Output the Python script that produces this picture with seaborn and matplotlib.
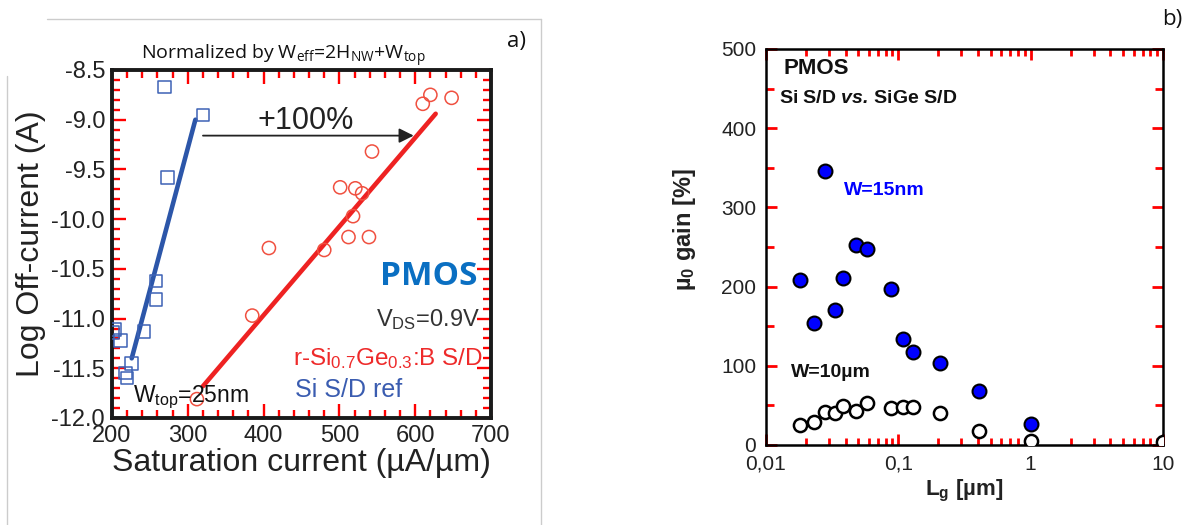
import numpy as np
import pandas as pd
import matplotlib
matplotlib.use("Agg")
import matplotlib.pyplot as plt
import seaborn as sns
from matplotlib.ticker import MultipleLocator, FixedLocator, FuncFormatter, LogLocator, NullFormatter
from matplotlib.lines import Line2D

# ---------------- Panel a) data ----------------
si_isat = [269, 320, 273, 258, 258, 242, 204, 211, 201, 226, 218, 220]
si_ioff = [-8.67, -8.95, -9.58, -10.62, -10.81, -11.13, -11.11, -11.22, -11.14, -11.45, -11.55, -11.60]
sige_isat = [312, 385, 407, 480, 501, 521, 530, 518, 512, 539, 543, 610, 620, 648]
sige_ioff = [-11.81, -10.97, -10.29, -10.31, -9.68, -9.69, -9.74, -9.97, -10.18, -10.18, -9.32, -8.84, -8.75, -8.78]
si_fit_isat = [226, 310]
si_fit_ioff = [-11.40, -9.00]
sige_fit_isat = [320, 627]
sige_fit_ioff = [-11.68, -8.94]
arrow_isat = [320, 598]
arrow_ioff = [-9.16, -9.16]

# ---------------- Panel b) data ----------------
lg_w15 = [0.018, 0.023, 0.028, 0.033, 0.038, 0.048, 0.058, 0.088, 0.108, 0.128, 0.208, 0.41, 1.0]
gain_w15 = [208, 154, 346, 171, 211, 253, 248, 197, 134, 118, 103, 68, 27]
lg_w10 = [0.018, 0.023, 0.028, 0.033, 0.038, 0.048, 0.058, 0.088, 0.108, 0.128, 0.208, 0.41, 1.0, 10.0]
gain_w10 = [25, 29, 42, 40, 49, 43, 53, 47, 48, 48, 41, 18, 5, 4]
lg_ticks = [0.01, 0.1, 1, 10]
lg_ticklabels = ["0,01", "0,1", "1", "10"]

sns.set_theme(style="ticks")
plt.rcParams["font.family"] = ["Liberation Sans", "DejaVu Sans"]
plt.rcParams["mathtext.fontset"] = "custom"
plt.rcParams["mathtext.rm"] = "Liberation Sans"
plt.rcParams["mathtext.it"] = "Liberation Sans:italic"
plt.rcParams["mathtext.bf"] = "Liberation Sans:bold"
plt.rcParams["mathtext.bfit"] = "Liberation Sans:italic:bold"

W, H = 1186, 525
fig = plt.figure(figsize=(W / 100, H / 100), dpi=100)
fig.patch.set_facecolor("white")

def frac(x0, y0, x1, y1):
    return [x0 / W, 1 - y1 / H, (x1 - x0) / W, (y1 - y0) / H]

TXT = "#222222"
TICKC = "red"

# ---------------- Panel a ----------------
axa = fig.add_axes(frac(112, 70, 491, 418))
sns.lineplot(x=si_fit_isat, y=si_fit_ioff, ax=axa, color="#2c56a9", lw=3.3, zorder=2)
sns.lineplot(x=sige_fit_isat, y=sige_fit_ioff, ax=axa, color="#ee2222", lw=3.3, zorder=2)
sns.scatterplot(x=si_isat, y=si_ioff, ax=axa, marker="s", s=80, color="#3d62b5",
                facecolor="none", edgecolor="#3d62b5", linewidth=1.1, zorder=3)
sns.scatterplot(x=sige_isat, y=sige_ioff, ax=axa, marker="o", s=90, color="#f05040",
                facecolor="none", edgecolor="#f05040", linewidth=1.1, zorder=3)
axa.annotate("", xy=(arrow_isat[1], arrow_ioff[1]), xytext=(arrow_isat[0], arrow_ioff[0]),
             arrowprops=dict(arrowstyle="-|>", color="#222222", lw=1.3, mutation_scale=22,
                             shrinkA=0, shrinkB=0))
axa.set_xlim(200, 700)
axa.set_ylim(-12.0, -8.5)
axa.xaxis.set_major_locator(MultipleLocator(100))
axa.xaxis.set_minor_locator(MultipleLocator(20))
axa.yaxis.set_major_locator(MultipleLocator(0.5))
axa.yaxis.set_minor_locator(MultipleLocator(0.1))
axa.yaxis.set_major_formatter(FuncFormatter(lambda v, p: f"{v:.1f}"))
for sp in axa.spines.values():
    sp.set_linewidth(2.8)
    sp.set_color("#1a1a1a")
axa.tick_params(which="both", direction="in", top=True, right=True, bottom=True, left=True,
                color=TICKC, labelsize=17, labelcolor=TXT, width=1.7)
axa.tick_params(which="major", length=10, pad=5)
axa.tick_params(which="minor", length=5.5)
axa.set_xlabel("Saturation current (µA/µm)", fontsize=23, color=TXT, labelpad=1)
axa.set_ylabel("Log Off-current (A)", fontsize=23, color=TXT, labelpad=4)

axa.text(456, -9.09, "+100%", fontsize=22, color=TXT, ha="center", va="baseline")
axa.text(618, -10.66, "PMOS", fontsize=24, color="#0a6fc2", fontweight="bold",
         family=["Open Sans", "DejaVu Sans"], ha="center", va="baseline")
axa.text(686, -11.08, r"V$_\mathregular{DS}$=0.9V", fontsize=17, color="#333333",
         ha="right", va="baseline")
axa.text(690, -11.47, r"r-Si$_\mathregular{0.7}$Ge$_\mathregular{0.3}$:B S/D", fontsize=17.5,
         color="#ee2a2a", ha="right", va="baseline")
axa.text(442, -11.79, "Si S/D ref", fontsize=18, color="#3a5cb0", ha="left", va="baseline")
axa.text(228, -11.84, r"W$_\mathregular{top}$=25nm", fontsize=16.5, color="#111111",
         ha="left", va="baseline")
axa.text(426, -8.40, r"Normalized by W$_\mathregular{eff}$=2H$_\mathregular{NW}$+W$_\mathregular{top}$",
         fontsize=14, color="#111111", family=["Open Sans", "DejaVu Sans"],
         ha="center", va="baseline", clip_on=False)

# ---------------- Panel b ----------------
axb = fig.add_axes(frac(766, 49, 1163, 445))
sns.scatterplot(x=lg_w10, y=gain_w10, ax=axb, marker="o", s=90, color="white",
                edgecolor="black", linewidth=1.8, zorder=3)
sns.scatterplot(x=lg_w15, y=gain_w15, ax=axb, marker="o", s=100, color="#0000ff",
                edgecolor="black", linewidth=1.5, zorder=4)
axb.set_xscale("log")
axb.set_xlim(0.01, 10)
axb.set_ylim(0, 500)
axb.xaxis.set_major_locator(FixedLocator(lg_ticks))
axb.xaxis.set_major_formatter(FuncFormatter(lambda v, p: dict(zip(lg_ticks, lg_ticklabels)).get(
    min(lg_ticks, key=lambda t: abs(np.log10(t) - np.log10(v))), "")))
axb.xaxis.set_minor_locator(LogLocator(base=10, subs=np.arange(2, 10), numticks=20))
axb.xaxis.set_minor_formatter(NullFormatter())
axb.yaxis.set_major_locator(MultipleLocator(100))
axb.yaxis.set_minor_locator(MultipleLocator(50))
for sp in axb.spines.values():
    sp.set_linewidth(1.8)
    sp.set_color("black")
axb.tick_params(which="both", direction="in", top=True, right=True, bottom=True, left=True,
                color=TICKC, labelsize=15, labelcolor=TXT, width=2.0)
axb.tick_params(which="major", length=8, pad=7)
axb.tick_params(which="minor", length=5)
axb.tick_params(axis="y", which="minor", length=6)
axb.set_xlabel(r"L$_\mathregular{g}$ [µm]", fontsize=16, fontweight="bold", color=TXT, labelpad=3)
axb.set_ylabel(r"µ$_\mathregular{0}$ gain [%]", fontsize=17, fontweight="bold", color=TXT)
axb.yaxis.set_label_coords(-0.171, 0.545)

axb.text(0.0135, 475, "PMOS", fontsize=16, fontweight="bold", color="#111111", ha="left", va="center")
axb.text(0.0126, 437, r"Si S/D $\mathbfit{vs.}\,$SiGe S/D", fontsize=14, fontweight="bold",
         color="#111111", ha="left", va="center")
axb.text(0.0391, 321, "W=15nm", fontsize=14, fontweight="bold", color="#0000ff", ha="left", va="center")
axb.text(0.01536, 92, "W=10µm", fontsize=14, fontweight="bold", color="#111111", ha="left", va="center")

# ---------------- panel labels & frame ----------------
fig.text(517 / W, 1 - 42 / H, "a)", fontsize=16, family=["Open Sans", "DejaVu Sans"],
         ha="center", va="center", color="#111111")
fig.text(1172 / W, 1 - 19 / H, "b)", fontsize=16, family=["Open Sans", "DejaVu Sans"],
         ha="center", va="center", color="#111111")
fig.add_artist(Line2D([47 / W, 541 / W], [1 - 19 / H, 1 - 19 / H], color="#cccccc", lw=1,
                      transform=fig.transFigure))
fig.add_artist(Line2D([541 / W, 541 / W], [1 - 19 / H, 0], color="#cccccc", lw=1,
                      transform=fig.transFigure))
fig.add_artist(Line2D([7 / W, 7 / W], [1 - 76 / H, 0], color="#cccccc", lw=1,
                      transform=fig.transFigure))

fig.savefig("out.png", dpi=100)
